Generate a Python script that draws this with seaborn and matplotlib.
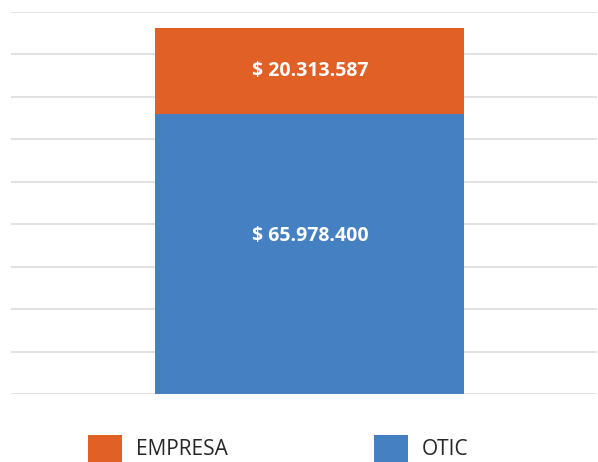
import matplotlib
matplotlib.use("Agg")
import matplotlib.pyplot as plt
import seaborn as sns
import pandas as pd
from matplotlib.patches import Patch

# Data
categories = ["Total"]
series_names = ["EMPRESA", "OTIC"]
otic_values = [65978400]
empresa_values = [20313587]
colors = {"EMPRESA": "#E06026", "OTIC": "#4480C2"}


def money(v):
    return "$ " + f"{v:,}".replace(",", ".")


sns.set_theme(style="white")
plt.rcParams["font.family"] = ["Open Sans", "DejaVu Sans"]

df = pd.DataFrame({
    "cat": categories,
    "otic": otic_values,
    "total": [o + e for o, e in zip(otic_values, empresa_values)],
})

fig = plt.figure(figsize=(5.98, 4.62), dpi=100)
ax = fig.add_axes([11 / 598, 1 - 394 / 462, 586 / 598, 382 / 462])

# stacked bar: draw the total in orange, then OTIC in blue on top of it
sns.barplot(data=df, x="cat", y="total", color=colors["EMPRESA"], width=0.527,
            saturation=1, linewidth=0, ax=ax, zorder=3)
sns.barplot(data=df, x="cat", y="otic", color=colors["OTIC"], width=0.527,
            saturation=1, linewidth=0, ax=ax, zorder=4)

ax.set_ylim(0, 90_000_000)
ax.set_xlim(-0.51, 0.49)
ax.set_yticks(range(0, 90_000_001, 10_000_000))
ax.yaxis.grid(True, color="#DDDDDD", linewidth=1.2, zorder=0)
ax.tick_params(left=False, bottom=False, labelleft=False, labelbottom=False)
ax.set_xlabel("")
ax.set_ylabel("")
for s in ax.spines.values():
    s.set_visible(False)

# value labels
for i, (o, e) in enumerate(zip(otic_values, empresa_values)):
    ax.text(i, o * 0.565, money(o), ha="center", va="center", color="white",
            fontsize=14, fontweight="bold", zorder=5)
    ax.text(i, o + e / 2, money(e), ha="center", va="center", color="white",
            fontsize=14, fontweight="bold", zorder=5)

handles = [Patch(facecolor=colors[n], edgecolor="none") for n in series_names]
fig.legend(handles, series_names, loc="upper left", bbox_to_anchor=(88 / 598, 1 - 435 / 462),
           ncol=2, frameon=False, fontsize=15, handlelength=1.63, handleheight=1.63,
           handletextpad=0.67, columnspacing=7.0, borderpad=0, borderaxespad=0,
           labelcolor="#262626")

fig.savefig("out.png", dpi=100)
